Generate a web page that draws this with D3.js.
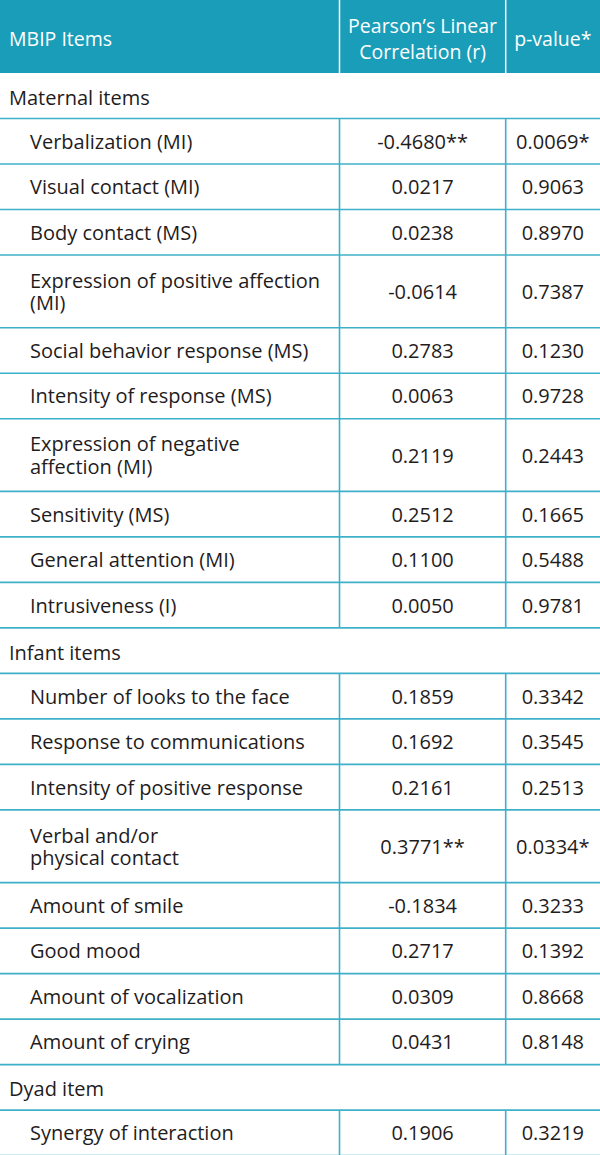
<!DOCTYPE html>
<html>
<head>
<meta charset="utf-8">
<script src="https://cdn.jsdelivr.net/npm/d3@7"></script>
<style>
  html, body { margin: 0; padding: 0; background: #fff; }
  svg { display: block; }
</style>
</head>
<body>
<div id="chart"></div>
<script>
// ---- data ----
const headerLabels = ["MBIP Items", "Pearson\u2019s Linear\nCorrelation (r)", "p-value*"];
const sections = ["Maternal items", "Infant items", "Dyad item"];

const maternalItems = [
  "Verbalization (MI)", "Visual contact (MI)", "Body contact (MS)",
  "Expression of positive affection\n(MI)", "Social behavior response (MS)",
  "Intensity of response (MS)", "Expression of negative\naffection (MI)",
  "Sensitivity (MS)", "General attention (MI)", "Intrusiveness (I)"
];
const maternalR = ["-0.4680**", "0.0217", "0.0238", "-0.0614", "0.2783", "0.0063", "0.2119", "0.2512", "0.1100", "0.0050"];
const maternalP = ["0.0069*", "0.9063", "0.8970", "0.7387", "0.1230", "0.9728", "0.2443", "0.1665", "0.5488", "0.9781"];

const infantItems = [
  "Number of looks to the face", "Response to communications",
  "Intensity of positive response", "Verbal and/or\nphysical contact",
  "Amount of smile", "Good mood", "Amount of vocalization", "Amount of crying"
];
const infantR = ["0.1859", "0.1692", "0.2161", "0.3771**", "-0.1834", "0.2717", "0.0309", "0.0431"];
const infantP = ["0.3342", "0.3545", "0.2513", "0.0334*", "0.3233", "0.1392", "0.8668", "0.8148"];

const dyadItems = ["Synergy of interaction"];
const dyadR = ["0.1906"];
const dyadP = ["0.3219"];

// ---- layout ----
const W = 600, H = 1155;
const headerH = 73, rowH = 45.5, extraLine = 27.2, lineGap = 22.5;
const teal = "#1a9db8", lineCol = "#3fb0c9", textCol = "#1f1c1d";
const fontFam = "'Open Sans', sans-serif";
const fs = 20, hfs = 19.5;

const colX = d3.scaleOrdinal().domain(["item", "r", "p"]).range([0, 339.5, 505.7]);
const colEnd = d3.scaleOrdinal().domain(["item", "r", "p"]).range([339.5, 505.7, 600]);
const colMid = k => (colX(k) + colEnd(k)) / 2;

const groups = [
  {title: sections[0], items: maternalItems, r: maternalR, p: maternalP},
  {title: sections[1], items: infantItems, r: infantR, p: infantP},
  {title: sections[2], items: dyadItems, r: dyadR, p: dyadP}
];

const rows = [];
let y = headerH;
groups.forEach(g => {
  rows.push({type: "section", label: g.title, y0: y, h: rowH});
  y += rowH;
  g.items.forEach((it, i) => {
    const n = it.split("\n").length;
    const h = rowH + (n - 1) * extraLine;
    rows.push({type: "item", label: it, r: g.r[i], p: g.p[i], y0: y, h: h});
    y += h;
  });
});

const svg = d3.select("#chart").append("svg").attr("width", W).attr("height", H);

// header
svg.append("rect").attr("x", 0).attr("y", 0).attr("width", W).attr("height", headerH).attr("fill", teal);
["r", "p"].forEach(k => {
  svg.append("line").attr("x1", colX(k)).attr("x2", colX(k)).attr("y1", 0).attr("y2", headerH)
    .attr("stroke", "#fff").attr("stroke-width", 1.5);
});
const hdrKeys = ["item", "r", "p"];
headerLabels.forEach((lab, i) => {
  const k = hdrKeys[i];
  const lines = lab.split("\n");
  const xx = i === 0 ? 9 : colMid(k);
  const t = svg.append("text").attr("font-family", fontFam).attr("font-size", hfs).attr("fill", "#fff")
    .attr("text-anchor", i === 0 ? "start" : "middle");
  const cy = 39.5;
  lines.forEach((ln, j) => {
    t.append("tspan").attr("x", xx)
      .attr("y", cy + (j - (lines.length - 1) / 2) * 26 + hfs * 0.35).text(ln);
  });
});

// rows
const g = svg.append("g");
rows.forEach(row => {
  const cy = row.y0 + row.h / 2 + (row.type === "section" ? 2 : 0.5);
  g.append("line").attr("x1", 0).attr("x2", W).attr("y1", row.y0 + row.h).attr("y2", row.y0 + row.h)
    .attr("stroke", lineCol).attr("stroke-width", 1.6);
  if (row.type === "section") {
    g.append("text").attr("font-family", fontFam).attr("font-size", fs).attr("fill", textCol)
      .attr("x", 9).attr("y", cy + fs * 0.35).text(row.label);
  } else {
    ["r", "p"].forEach(k => {
      g.append("line").attr("x1", colX(k)).attr("x2", colX(k)).attr("y1", row.y0).attr("y2", row.y0 + row.h)
        .attr("stroke", lineCol).attr("stroke-width", 1.6);
    });
    const lines = row.label.split("\n");
    const t = g.append("text").attr("font-family", fontFam).attr("font-size", fs).attr("fill", textCol);
    lines.forEach((ln, j) => {
      t.append("tspan").attr("x", 30).attr("y", cy + (j - (lines.length - 1) / 2) * lineGap + fs * 0.35).text(ln);
    });
    g.append("text").attr("font-family", fontFam).attr("font-size", fs).attr("fill", textCol)
      .attr("text-anchor", "middle").attr("x", colMid("r")).attr("y", cy + fs * 0.35).text(row.r);
    g.append("text").attr("font-family", fontFam).attr("font-size", fs).attr("fill", textCol)
      .attr("text-anchor", "middle").attr("x", colMid("p")).attr("y", cy + fs * 0.35).text(row.p);
  }
});
</script>
</body>
</html>
